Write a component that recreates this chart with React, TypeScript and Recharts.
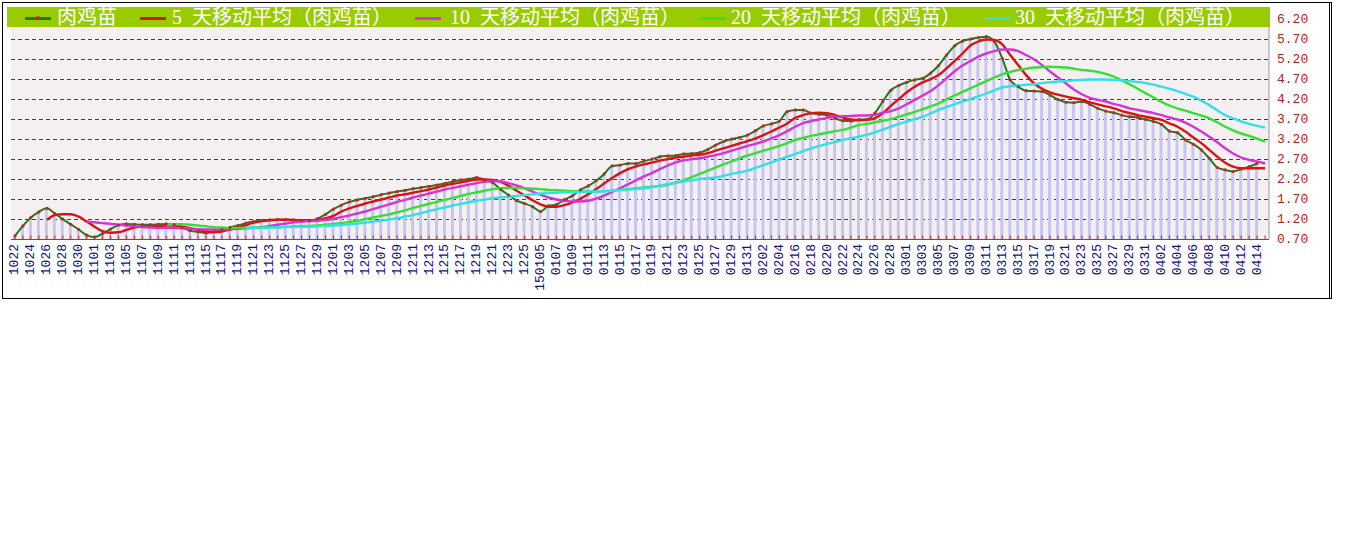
import { ComposedChart, Bar, Line, XAxis, YAxis, CartesianGrid, Legend } from "recharts"

// 日期（横轴），每隔一个显示
const dates = [
  "1022", "1023", "1024", "1025", "1026", "1027", "1028", "1029", "1030", "1031",
  "1101", "1102", "1103", "1104", "1105", "1106", "1107", "1108", "1109", "1110",
  "1111", "1112", "1113", "1114", "1115", "1116", "1117", "1118", "1119", "1120",
  "1121", "1122", "1123", "1124", "1125", "1126", "1127", "1128", "1129", "1130",
  "1201", "1202", "1203", "1204", "1205", "1206", "1207", "1208", "1209", "1210",
  "1211", "1212", "1213", "1214", "1215", "1216", "1217", "1218", "1219", "1220",
  "1221", "1222", "1223", "1224", "1225", "1226", "150105", "0106", "0107", "0108",
  "0109", "0110", "0111", "0112", "0113", "0114", "0115", "0116", "0117", "0118",
  "0119", "0120", "0121", "0122", "0123", "0124", "0125", "0126", "0127", "0128",
  "0129", "0130", "0131", "0201", "0202", "0203", "0204", "0205", "0216", "0217",
  "0218", "0219", "0220", "0221", "0222", "0223", "0224", "0225", "0226", "0227",
  "0228", "0229", "0301", "0302", "0303", "0304", "0305", "0306", "0307", "0308",
  "0309", "0310", "0311", "0312", "0313", "0314", "0315", "0316", "0317", "0318",
  "0319", "0320", "0321", "0322", "0323", "0324", "0325", "0326", "0327", "0328",
  "0329", "0330", "0331", "0401", "0402", "0403", "0404", "0405", "0406", "0407",
  "0408", "0409", "0410", "0411", "0412", "0413", "0414", "0415",
]

// 肉鸡苗价格
const price = [
  0.79, 1.04, 1.25, 1.39, 1.48, 1.35, 1.21, 1.08, 0.95, 0.81,
  0.76, 0.85, 0.96, 1.06, 1.09, 1.08, 1.07, 1.07, 1.08, 1.09,
  1.07, 1.0, 0.92, 0.89, 0.86, 0.9, 0.95, 1.0, 1.05, 1.11,
  1.15, 1.18, 1.19, 1.2, 1.2, 1.19, 1.18, 1.17, 1.22, 1.33,
  1.46, 1.56, 1.64, 1.69, 1.73, 1.77, 1.82, 1.86, 1.9, 1.93,
  1.97, 2.0, 2.03, 2.06, 2.1, 2.15, 2.19, 2.21, 2.25, 2.19,
  2.12, 1.95, 1.81, 1.67, 1.6, 1.52, 1.4, 1.54, 1.57, 1.7,
  1.79, 1.94, 2.04, 2.17, 2.34, 2.54, 2.56, 2.6, 2.6, 2.66,
  2.71, 2.77, 2.79, 2.8, 2.84, 2.85, 2.87, 2.95, 3.06, 3.15,
  3.21, 3.25, 3.31, 3.42, 3.54, 3.59, 3.66, 3.9, 3.94, 3.94,
  3.86, 3.83, 3.81, 3.73, 3.67, 3.66, 3.7, 3.7, 3.86, 4.15,
  4.43, 4.55, 4.63, 4.69, 4.73, 4.86, 5.05, 5.31, 5.54, 5.66,
  5.71, 5.75, 5.77, 5.65, 5.23, 4.69, 4.52, 4.42, 4.41, 4.4,
  4.31, 4.2, 4.13, 4.12, 4.15, 4.08, 3.98, 3.91, 3.87, 3.81,
  3.77, 3.75, 3.7, 3.65, 3.58, 3.41, 3.37, 3.19, 3.08, 2.94,
  2.73, 2.5, 2.44, 2.4, 2.46, 2.52, 2.6, null,
]

// 5 天移动平均
const ma5 = [
  null, null, null, null,
  1.19, 1.31, 1.33, 1.33, 1.27, 1.15, 1.02, 0.91, 0.87, 0.88,
  0.94, 1.0, 1.02, 1.04, 1.04, 1.05, 1.05, 1.02, 0.98, 0.94,
  0.9, 0.88, 0.9, 0.95, 1.0, 1.06, 1.12, 1.16, 1.18, 1.19,
  1.19, 1.19, 1.18, 1.18, 1.19, 1.23, 1.29, 1.4, 1.48, 1.54,
  1.6, 1.65, 1.7, 1.75, 1.8, 1.83, 1.87, 1.91, 1.95, 2.0,
  2.05, 2.09, 2.13, 2.17, 2.2, 2.2, 2.19, 2.14, 2.04, 1.92,
  1.8, 1.68, 1.58, 1.52, 1.52, 1.56, 1.63, 1.72, 1.83, 1.96,
  2.1, 2.24, 2.36, 2.46, 2.53, 2.58, 2.62, 2.67, 2.71, 2.75,
  2.77, 2.8, 2.82, 2.86, 2.92, 2.98, 3.04, 3.1, 3.16, 3.23,
  3.31, 3.4, 3.5, 3.6, 3.74, 3.81, 3.86, 3.87, 3.86, 3.81,
  3.75, 3.7, 3.68, 3.69, 3.73, 3.86, 4.04, 4.21, 4.38, 4.52,
  4.63, 4.71, 4.81, 4.98, 5.16, 5.35, 5.55, 5.65, 5.7, 5.69,
  5.58, 5.31, 5.06, 4.81, 4.6, 4.47, 4.38, 4.32, 4.27, 4.23,
  4.19, 4.13, 4.08, 4.03, 3.98, 3.91, 3.86, 3.81, 3.77, 3.73,
  3.69, 3.6, 3.52, 3.4, 3.25, 3.11, 2.94, 2.77, 2.62, 2.52,
  2.48, 2.48, 2.48, 2.48,
]

// 10 天移动平均
const ma10 = [
  null, null, null, null, null, null, null, null, null,
  1.15, 1.13, 1.11, 1.09, 1.07, 1.05, 1.03, 1.01, 1.0, 0.99,
  0.99, 0.99, 0.98, 0.97, 0.96, 0.95, 0.95, 0.95, 0.96, 0.97,
  0.98, 0.99, 1.01, 1.04, 1.07, 1.1, 1.13, 1.15, 1.16, 1.17,
  1.19, 1.22, 1.26, 1.3, 1.35, 1.4, 1.46, 1.52, 1.58, 1.64,
  1.69, 1.75, 1.8, 1.85, 1.9, 1.95, 1.99, 2.03, 2.07, 2.11,
  2.14, 2.16, 2.15, 2.11, 2.05, 1.98, 1.9, 1.82, 1.75, 1.7,
  1.67, 1.65, 1.65, 1.67, 1.72, 1.8, 1.89, 1.98, 2.08, 2.18,
  2.28, 2.36, 2.46, 2.55, 2.63, 2.68, 2.71, 2.73, 2.77, 2.81,
  2.86, 2.92, 2.98, 3.04, 3.09, 3.15, 3.23, 3.31, 3.41, 3.52,
  3.61, 3.66, 3.7, 3.74, 3.77, 3.78, 3.79, 3.8, 3.8, 3.82,
  3.87, 3.91, 3.98, 4.08, 4.19, 4.3, 4.41, 4.56, 4.73, 4.9,
  5.05, 5.16, 5.27, 5.35, 5.41, 5.45, 5.45, 5.41, 5.31, 5.2,
  5.06, 4.9, 4.75, 4.6, 4.45, 4.33, 4.24, 4.19, 4.15, 4.09,
  4.04, 3.98, 3.94, 3.9, 3.86, 3.81, 3.75, 3.7, 3.62, 3.52,
  3.4, 3.27, 3.13, 2.98, 2.85, 2.75, 2.69, 2.65, 2.6,
]

// 20 天移动平均
const ma20 = [
  null, null, null, null, null, null, null, null, null, null,
  null, null, null, null, null, null, null, null, null,
  1.07, 1.08, 1.08, 1.07, 1.05, 1.03, 1.01, 1.0, 0.99, 0.99,
  0.99, 1.0, 1.0, 1.01, 1.01, 1.02, 1.03, 1.04, 1.04, 1.05,
  1.07, 1.09, 1.11, 1.14, 1.17, 1.21, 1.25, 1.29, 1.33, 1.38,
  1.43, 1.49, 1.54, 1.59, 1.64, 1.69, 1.74, 1.79, 1.84, 1.88,
  1.92, 1.96, 1.98, 1.99, 1.99, 1.98, 1.97, 1.96, 1.94, 1.93,
  1.92, 1.91, 1.9, 1.9, 1.9, 1.91, 1.92, 1.94, 1.96, 1.98,
  2.0, 2.02, 2.04, 2.07, 2.12, 2.18, 2.26, 2.34, 2.42, 2.5,
  2.58, 2.65, 2.73, 2.8, 2.86, 2.92, 2.98, 3.04, 3.11, 3.19,
  3.24, 3.29, 3.33, 3.37, 3.41, 3.44, 3.5, 3.56, 3.59, 3.63,
  3.67, 3.71, 3.77, 3.83, 3.89, 3.96, 4.03, 4.1, 4.2, 4.3,
  4.39, 4.48, 4.57, 4.66, 4.75, 4.83, 4.89, 4.94, 4.97, 5.0,
  5.01, 5.02, 5.01, 5.0, 4.97, 4.94, 4.92, 4.89, 4.84, 4.77,
  4.68, 4.58, 4.47, 4.36, 4.25, 4.14, 4.05, 3.98, 3.92, 3.86,
  3.8, 3.73, 3.63, 3.52, 3.43, 3.35, 3.29, 3.22, 3.15,
]

// 30 天移动平均
const ma30 = [
  null, null, null, null, null, null, null, null, null, null,
  null, null, null, null, null, null, null, null, null, null,
  null, null, null, null, null, null, null, null, null,
  1.0, 0.99, 0.99, 1.0, 1.0, 1.01, 1.01, 1.02, 1.02, 1.03,
  1.04, 1.05, 1.06, 1.08, 1.1, 1.12, 1.15, 1.17, 1.2, 1.23,
  1.27, 1.31, 1.36, 1.41, 1.46, 1.5, 1.55, 1.59, 1.63, 1.67,
  1.7, 1.73, 1.75, 1.77, 1.79, 1.81, 1.83, 1.85, 1.86, 1.87,
  1.88, 1.88, 1.89, 1.9, 1.9, 1.91, 1.92, 1.94, 1.95, 1.96,
  1.98, 2.01, 2.05, 2.09, 2.12, 2.15, 2.18, 2.21, 2.23, 2.25,
  2.29, 2.34, 2.38, 2.42, 2.49, 2.56, 2.63, 2.7, 2.77, 2.84,
  2.91, 2.98, 3.04, 3.09, 3.14, 3.19, 3.23, 3.27, 3.32, 3.38,
  3.45, 3.52, 3.59, 3.65, 3.71, 3.77, 3.85, 3.94, 4.01, 4.08,
  4.15, 4.21, 4.28, 4.35, 4.43, 4.5, 4.53, 4.55, 4.57, 4.58,
  4.61, 4.63, 4.65, 4.66, 4.68, 4.69, 4.7, 4.7, 4.7, 4.69,
  4.68, 4.66, 4.64, 4.61, 4.57, 4.52, 4.47, 4.41, 4.34, 4.27,
  4.17, 4.06, 3.93, 3.81, 3.73, 3.65, 3.59, 3.54, 3.5,
]

const yTicks = [0.7, 1.2, 1.7, 2.2, 2.7, 3.2, 3.7, 4.2, 4.7, 5.2, 5.7, 6.2]

const series = [
  { key: "price", name: "肉鸡苗", color: "#1e7b1e" },
  { key: "ma5", name: "5 天移动平均（肉鸡苗）", color: "#dd1111" },
  { key: "ma10", name: "10 天移动平均（肉鸡苗）", color: "#d633d6" },
  { key: "ma20", name: "20 天移动平均（肉鸡苗）", color: "#33e033" },
  { key: "ma30", name: "30 天移动平均（肉鸡苗）", color: "#33e0e8" },
]

const chartData = dates.map((d, i) => ({
  date: d,
  price: price[i],
  ma5: ma5[i],
  ma10: ma10[i],
  ma20: ma20[i],
  ma30: ma30[i],
}))

const monoFont = '"Liberation Mono", "DejaVu Sans Mono", monospace'

function XTick(props: any) {
  const { x, y, payload } = props
  const idx = props.index ?? payload.index
  return (
    <g>
      <line x1={x} x2={x} y1={y} y2={y - 4} stroke="#cc2222" />
      {idx % 2 === 0 && (
        <text
          transform={`translate(${x},${y + 4.5}) rotate(-90)`}
          textAnchor="end"
          dominantBaseline="central"
          fill="#10108a"
          fontSize={13}
          fontFamily={monoFont}
        >
          {payload.value}
        </text>
      )}
    </g>
  )
}

function YTick(props: any) {
  const { x, y, payload } = props
  return (
    <text x={x} y={y} textAnchor="start" dominantBaseline="central" fill="#b42222" fontSize={13} fontFamily={monoFont}>
      {Number(payload.value).toFixed(2)}
    </text>
  )
}

// 图例：绿色横条，白字
const iconLeft = [18, 133, 408, 693, 978]
const textLeft = [50, 165, 443, 724, 1008]

function renderLegend() {
  return (
    <div style={{ position: "relative", width: 1263, height: 20, background: "#99cc00" }}>
      {series.map((s, i) => (
        <div key={s.key}>
          <div
            style={{ position: "absolute", left: iconLeft[i], top: 10, width: 26, height: 3, background: s.color }}
          />
          {s.key === "price" && (
            <div
              style={{
                position: "absolute",
                left: iconLeft[i] + 11,
                top: 9,
                width: 4,
                height: 4,
                borderRadius: 2,
                background: "#d02020",
              }}
            />
          )}
          <div
            style={{
              position: "absolute",
              left: textLeft[i],
              top: 0,
              height: 20,
              lineHeight: "20px",
              fontSize: 20,
              color: "#ffffff",
              whiteSpace: "pre",
              wordSpacing: 5,
              fontFamily: '"Liberation Serif", "Noto Sans CJK SC", serif',
            }}
          >
            {s.name}
          </div>
        </div>
      ))}
    </div>
  )
}

export default function App() {
  return (
    <div style={{ position: "absolute", left: 0, top: 0, width: 1345, height: 541, background: "#ffffff", overflow: "hidden" }}>
      <div
        style={{
          position: "absolute",
          left: 2,
          top: 2,
          width: 1330,
          height: 297,
          boxSizing: "border-box",
          border: "1px solid #000",
          borderRight: "3px double #000",
        }}
      />
      <div style={{ position: "absolute", left: 0, top: 0 }}>
        <ComposedChart
          width={1345}
          height={300}
          data={chartData}
          margin={{ top: 19.5, right: 0, left: 11, bottom: 0.5 }}
          barCategoryGap={0}
        >
          <CartesianGrid
            horizontal
            vertical={false}
            stroke="#702070"
            strokeDasharray="4 3"
            fill="#f4f0f2"
            fillOpacity={1}
          />
          <XAxis
            dataKey="date"
            interval={0}
            height={60}
            tickLine={false}
            tickSize={0}
            tickMargin={0}
            axisLine={{ stroke: "#cc2222" }}
            tick={<XTick />}
          />
          <YAxis
            yAxisId="left"
            orientation="left"
            width={0}
            domain={[0.7, 6.2]}
            tick={false}
            tickLine={false}
            axisLine={{ stroke: "#000000" }}
          />
          <YAxis
            orientation="right"
            width={76}
            domain={[0.7, 6.2]}
            ticks={yTicks}
            interval={0}
            allowDataOverflow
            tickLine={false}
            axisLine={{ stroke: "#999999" }}
            tick={<YTick />}
          />
          <Legend
            layout="horizontal"
            verticalAlign="middle"
            align="center"
            width={1263}
            wrapperStyle={{ left: 7, top: 7, width: 1263, height: 20 }}
            content={renderLegend}
          />
          <Bar dataKey="price" barSize={3} fill="#c6c6f0" legendType="none" isAnimationActive={false} />
          <Line
            type="monotone"
            dataKey="price"
            name="肉鸡苗"
            stroke="#1e7b1e"
            strokeWidth={2}
            dot={{ r: 1.6, fill: "#d02020", stroke: "#d02020", strokeWidth: 0 }}
            activeDot={false}
            isAnimationActive={false}
          />
          <Line type="monotone" dataKey="ma5" name="5 天移动平均（肉鸡苗）" stroke="#dd1111" strokeWidth={2.4} dot={false} isAnimationActive={false} />
          <Line type="monotone" dataKey="ma10" name="10 天移动平均（肉鸡苗）" stroke="#d633d6" strokeWidth={2.4} dot={false} isAnimationActive={false} />
          <Line type="monotone" dataKey="ma20" name="20 天移动平均（肉鸡苗）" stroke="#33e033" strokeWidth={2.4} dot={false} isAnimationActive={false} />
          <Line type="monotone" dataKey="ma30" name="30 天移动平均（肉鸡苗）" stroke="#33e0e8" strokeWidth={2.4} dot={false} isAnimationActive={false} />
        </ComposedChart>
      </div>
    </div>
  )
}
